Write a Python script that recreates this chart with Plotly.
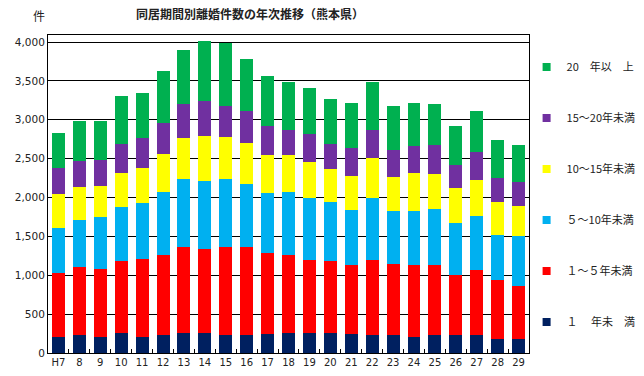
import plotly.graph_objects as go

years = ["H7", "8", "9", "10", "11", "12", "13", "14", "15", "16", "17", "18",
         "19", "20", "21", "22", "23", "24", "25", "26", "27", "28", "29"]

lt1 = [210, 227, 210, 253, 201, 227, 253, 253, 227, 227, 240, 261,
       253, 253, 240, 227, 227, 201, 227, 227, 227, 176, 176]
y1_5 = [814, 874, 874, 925, 1002, 1036, 1105, 1079, 1131, 1131, 1041, 1002,
        938, 925, 886, 964, 912, 925, 899, 771, 835, 758, 681]
y5_10 = [586, 612, 668, 706, 729, 810, 882, 886, 886, 822, 783, 810,
         809, 758, 707, 809, 681, 694, 720, 668, 694, 578, 642]
y10_15 = [437, 424, 398, 433, 453, 492, 531, 579, 540, 527, 489, 475,
          458, 432, 450, 514, 450, 501, 462, 450, 475, 424, 398]
y15_20 = [338, 334, 338, 377, 386, 399, 437, 449, 398, 411, 372, 326,
          364, 326, 359, 360, 347, 347, 373, 308, 360, 321, 296]
y20p = [446, 518, 501, 612, 578, 663, 689, 767, 805, 664, 638, 616,
        587, 574, 574, 616, 561, 548, 522, 497, 527, 488, 488]

series = [
    ("１　 年未　満", lt1, "#002060"),
    ("１～５年未満", y1_5, "#FF0000"),
    ("５～10年未満", y5_10, "#00B0F0"),
    ("10～15年未満", y10_15, "#FFFF00"),
    ("15～20年未満", y15_20, "#7030A0"),
    ("20　年以　上", y20p, "#00B050"),
]

fig = go.Figure()
n = len(series)
for i, (name, vals, col) in enumerate(series):
    fig.add_trace(go.Bar(x=years, y=vals, name=name, marker_color=col,
                         marker_line_width=0, legendgroup="g%d" % i,
                         showlegend=False))
for i, (name, vals, col) in enumerate(series):
    fig.add_trace(go.Scatter(x=[None], y=[None], name=name, mode="markers",
                             marker=dict(symbol="square", size=8, color=col),
                             legendgroup="g%d" % i, legendrank=(n - i) * 10,
                             showlegend=True))

font_fam = "DejaVu Sans, Noto Sans CJK JP, sans-serif"
fig.update_layout(
    barmode="stack",
    bargap=0.38,
    width=644, height=376,
    margin=dict(l=48, r=115, t=35, b=23, autoexpand=False),
    paper_bgcolor="white", plot_bgcolor="white",
    font=dict(family=font_fam, size=11, color="#222222"),
    title=dict(text="<b>同居期間別離婚件数の年次推移（熊本県）</b>",
               x=250 / 644, xanchor="center", y=1 - 15 / 376, yanchor="middle",
               font=dict(family="Noto Sans CJK JP, sans-serif", size=12, color="#222222")),
    legend=dict(traceorder="grouped", x=0.995, xanchor="left", y=0.945, yanchor="top",
                tracegroupgap=32, font=dict(family="Noto Sans CJK JP, DejaVu Sans, sans-serif", size=11),
                itemwidth=30, bgcolor="rgba(0,0,0,0)"),
    showlegend=True,
    annotations=[dict(text="件", xref="paper", yref="paper",
                      x=(39 - 48) / 481, y=1 + (35 - 16) / 318, xanchor="center", yanchor="middle",
                      showarrow=False, font=dict(family="Noto Sans CJK JP", size=12, color="#222222"))],
)
fig.update_yaxes(range=[0, 4090], dtick=500, tickformat=",", showgrid=True,
                 gridcolor="black", gridwidth=1, showline=True, linecolor="black",
                 linewidth=1, mirror=True, ticks="", zeroline=False, automargin=False,
                 tickfont=dict(size=10.5))
fig.update_xaxes(showline=True, linecolor="black", linewidth=1, mirror=True,
                 ticks="inside", ticklen=4, tickcolor="black", tickson="boundaries",
                 tickangle=0, automargin=False, tickfont=dict(size=10))

fig.write_html("out.html", config={"displayModeBar": False},
               post_script="document.body.style.margin='0';document.body.style.overflow='hidden';")
